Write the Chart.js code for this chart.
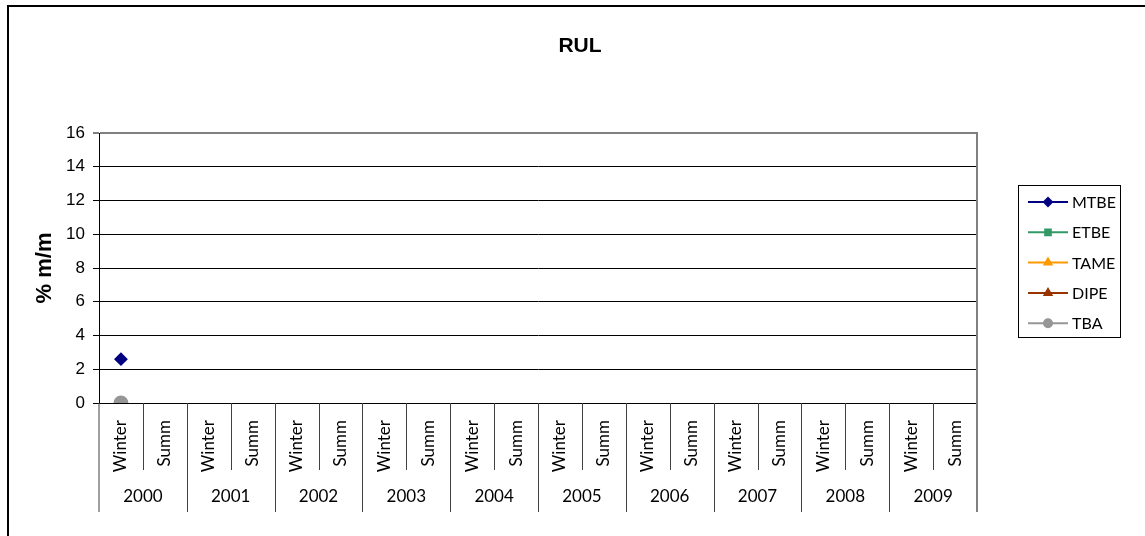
<!DOCTYPE html>
<html>
<head>
<meta charset="utf-8">
<script src="https://cdn.jsdelivr.net/npm/chart.js@4.4.0/dist/chart.umd.min.js"></script>
<style>
    html, body { margin: 0; padding: 0; background: #fff; overflow: hidden; }
</style>
</head>
<body>
<canvas id="myChart" width="1145" height="536"></canvas>
<script>
// chart data
var seasons = ['Winter', 'Summ', 'Winter', 'Summ', 'Winter', 'Summ', 'Winter', 'Summ', 'Winter', 'Summ',
               'Winter', 'Summ', 'Winter', 'Summ', 'Winter', 'Summ', 'Winter', 'Summ', 'Winter', 'Summ'];
var years = ['2000', '2001', '2002', '2003', '2004', '2005', '2006', '2007', '2008', '2009'];
var yTicks = [0, 2, 4, 6, 8, 10, 12, 14, 16];

var mtbe = [2.6, null, null, null, null, null, null, null, null, null, null, null, null, null, null, null, null, null, null, null];
var etbe = [0, null, null, null, null, null, null, null, null, null, null, null, null, null, null, null, null, null, null, null];
var tame = [0, null, null, null, null, null, null, null, null, null, null, null, null, null, null, null, null, null, null, null];
var dipe = [0, null, null, null, null, null, null, null, null, null, null, null, null, null, null, null, null, null, null, null];
var tba  = [0, null, null, null, null, null, null, null, null, null, null, null, null, null, null, null, null, null, null, null];

function series(label, data, color, style, radius, order){
    return {
        label: label,
        data: data,
        borderColor: color,
        backgroundColor: color,
        pointBackgroundColor: color,
        pointBorderColor: color,
        pointStyle: style,
        pointRadius: radius,
        borderWidth: 2,
        order: order
    };
}

// frame, title, category separators, year labels and legend box
var extras = {
    id: 'extras',
    afterDraw: function(chart){
        var ctx = chart.ctx;
        var a = chart.chartArea;
        var x = chart.scales.x;
        ctx.save();

        ctx.strokeStyle = '#000';
        ctx.lineWidth = 2;
        ctx.strokeRect(8, 6, 1400, 800);

        ctx.fillStyle = '#000';
        ctx.font = 'bold 21px "Liberation Sans"';
        ctx.textAlign = 'center';
        ctx.textBaseline = 'middle';
        ctx.fillText('RUL', 580, 46);

        // right plot border
        ctx.strokeStyle = '#808080';
        ctx.lineWidth = 2;
        ctx.beginPath();
        ctx.moveTo(a.right, a.top - 1);
        ctx.lineTo(a.right, 512);
        ctx.stroke();

        var step = x.getPixelForValue(1) - x.getPixelForValue(0);
        ctx.strokeStyle = '#404040';
        ctx.lineWidth = 1;
        for (var i = 1; i < seasons.length; i++){
            var bx = Math.round(x.getPixelForValue(i) - step / 2) + 0.5;
            ctx.beginPath();
            ctx.moveTo(bx, a.bottom);
            ctx.lineTo(bx, i % 2 === 0 ? 512 : 470);
            ctx.stroke();
        }
        ctx.beginPath();
        ctx.moveTo(a.left, a.bottom);
        ctx.lineTo(a.left, 512);
        ctx.stroke();

        ctx.font = '17px Lato';
        ctx.fillStyle = '#000';
        for (var k = 0; k < years.length; k++){
            var cx = (x.getPixelForValue(2 * k) + x.getPixelForValue(2 * k + 1)) / 2;
            ctx.fillText(years[k], cx, 497);
        }

        // legend
        ctx.strokeStyle = '#000';
        ctx.lineWidth = 1;
        ctx.strokeRect(1018.5, 185.5, 102, 152);
        var sets = chart.data.datasets;
        ctx.textAlign = 'left';
        ctx.font = '16px Lato';
        for (var j = 0; j < sets.length; j++){
            var ly = 202 + j * 30.3;
            ctx.strokeStyle = sets[j].borderColor;
            ctx.lineWidth = 2;
            ctx.beginPath();
            ctx.moveTo(1028, ly);
            ctx.lineTo(1068, ly);
            ctx.stroke();
            ctx.fillStyle = sets[j].backgroundColor;
            Chart.helpers.drawPoint(ctx, {pointStyle: sets[j].pointStyle, radius: 4, rotation: 0, borderWidth: 1}, 1048, ly);
            ctx.fillStyle = '#000';
            ctx.fillText(sets[j].label, 1072, ly + 1);
        }
        ctx.restore();
    }
};

var ctx = document.getElementById('myChart').getContext('2d');
var chart = new Chart(ctx, {
    type: 'line',
    data: {
        labels: seasons,
        datasets: [
            series('MTBE', mtbe, '#000080', 'rectRot', 5.5, 1),
            series('ETBE', etbe, '#339966', 'rect', 5, 2),
            series('TAME', tame, '#FF9900', 'triangle', 5, 3),
            series('DIPE', dipe, '#993300', 'triangle', 5, 4),
            series('TBA', tba, '#969696', 'circle', 6.5, 0)
        ]
    },
    options: {
        responsive: false,
        animation: false,
        devicePixelRatio: 1,
        layout: { padding: { left: 0, top: 133, right: 168, bottom: 0 } },
        plugins: {
            legend: { display: false },
            title: { display: false },
            tooltip: { enabled: false }
        },
        scales: {
            x: {
                offset: true,
                grid: { display: false },
                border: { display: false },
                ticks: {
                    color: '#000',
                    font: { family: 'Lato', size: 17 },
                    minRotation: 90,
                    maxRotation: 90,
                    padding: 9,
                    autoSkip: false
                },
                afterFit: function(scale){ scale.height = 133; }
            },
            y: {
                min: 0,
                max: 16,
                afterBuildTicks: function(scale){
                    scale.ticks = yTicks.map(function(v){ return {value: v}; });
                },
                grid: {
                    color: function(c){ return c.tick && c.tick.value === 16 ? '#808080' : '#000'; },
                    lineWidth: function(c){ return c.tick && c.tick.value === 16 ? 2 : 1; },
                    tickLength: 6
                },
                border: { display: true, color: '#000', width: 1 },
                ticks: {
                    color: '#000',
                    font: { family: 'Liberation Sans', size: 17 },
                    padding: 8
                },
                title: {
                    display: true,
                    text: '% m/m',
                    color: '#000',
                    font: { family: 'Liberation Sans', size: 22, weight: 'bold' },
                    padding: { top: 32, bottom: 0 }
                },
                afterFit: function(scale){ scale.width = 99; }
            }
        }
    },
    plugins: [extras]
});
</script>
</body>
</html>
